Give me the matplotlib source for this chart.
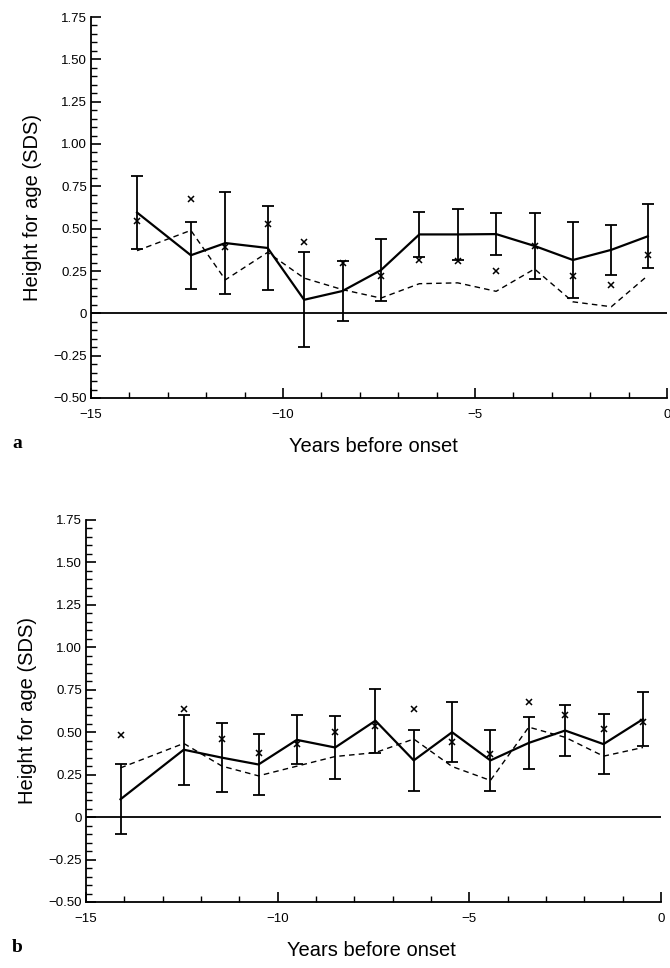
import matplotlib
matplotlib.use("Agg")
import matplotlib.pyplot as plt
from matplotlib.ticker import MultipleLocator, FixedLocator

# ---------------- data ----------------
# Panel a
years_a = [-13.8, -12.4, -11.5, -10.4, -9.45, -8.45, -7.45, -6.45, -5.45, -4.45, -3.45, -2.45, -1.45, -0.5]
mean_a = [0.595, 0.343, 0.415, 0.386, 0.08, 0.132, 0.255, 0.466, 0.466, 0.468, 0.398, 0.315, 0.375, 0.455]
err_a = [0.215, 0.197, 0.30, 0.247, 0.28, 0.18, 0.185, 0.132, 0.152, 0.126, 0.194, 0.224, 0.146, 0.19]
dash_a = [0.37, 0.49, 0.198, 0.36, 0.208, 0.14, 0.09, 0.175, 0.18, 0.13, 0.262, 0.068, 0.039, 0.223]
cross_a = [0.544, 0.676, 0.39, 0.53, 0.42, 0.295, 0.218, 0.315, 0.31, 0.249, 0.398, 0.218, 0.169, 0.346]

# Panel b
years_b = [-14.1, -12.45, -11.45, -10.5, -9.5, -8.5, -7.45, -6.45, -5.45, -4.45, -3.45, -2.5, -1.5, -0.47]
mean_b = [0.105, 0.397, 0.35, 0.31, 0.455, 0.41, 0.568, 0.334, 0.50, 0.334, 0.437, 0.51, 0.43, 0.577]
err_b = [0.205, 0.207, 0.205, 0.177, 0.145, 0.185, 0.188, 0.179, 0.177, 0.179, 0.153, 0.15, 0.178, 0.158]
dash_b = [0.29, 0.434, 0.30, 0.243, 0.30, 0.357, 0.38, 0.46, 0.298, 0.216, 0.53, 0.47, 0.359, 0.41]
cross_b = [0.484, 0.635, 0.46, 0.38, 0.43, 0.50, 0.535, 0.636, 0.44, 0.373, 0.676, 0.60, 0.52, 0.559]

x_ticks = [-15, -10, -5, 0]
x_ticklabels = ["\u221215", "\u221210", "\u22125", "0"]
y_ticks = [-0.5, -0.25, 0, 0.25, 0.5, 0.75, 1.0, 1.25, 1.5, 1.75]
y_ticklabels = ["\u22120.50", "\u22120.25", "0", "0.25", "0.50", "0.75", "1.00", "1.25", "1.50", "1.75"]

plt.rcParams['font.family'] = ['Liberation Sans', 'DejaVu Sans']

fig = plt.figure(figsize=(6.70, 9.68), dpi=100)
ax_a = fig.add_axes([91/670, 1 - 398/968, 576/670, 381/968])
ax_b = fig.add_axes([86/670, 1 - 902/968, 575/670, 382/968])


def draw(ax, years, mean, err, dash, cross, letter, letter_x, label_x):
    ax.axhline(0, color='black', lw=1.3, zorder=1)
    ax.plot(years, dash, color='black', lw=1.0, ls=(0, (4, 3)), zorder=2)
    ax.errorbar(years, mean, yerr=err, color='black', lw=1.6, elinewidth=1.3,
                capsize=4, capthick=1.3, zorder=3)
    ax.plot(years, cross, ls='none', marker='x', color='black', ms=4.5, mew=1.1, zorder=4)

    ax.set_xlim(-15, 0)
    ax.set_ylim(-0.5, 1.75)
    ax.xaxis.set_major_locator(FixedLocator(x_ticks))
    ax.set_xticklabels(x_ticklabels)
    ax.xaxis.set_minor_locator(MultipleLocator(1))
    ax.yaxis.set_major_locator(FixedLocator(y_ticks))
    ax.set_yticklabels(y_ticklabels)
    ax.yaxis.set_minor_locator(MultipleLocator(0.05))
    for s in ['top', 'right']:
        ax.spines[s].set_visible(False)
    for s in ['left', 'bottom']:
        ax.spines[s].set_linewidth(1.3)
    ax.tick_params(which='major', direction='in', length=7, width=1.2, labelsize=9.5)
    ax.tick_params(axis='x', which='major', pad=8)
    ax.tick_params(axis='y', which='major', pad=3)
    ax.tick_params(which='minor', direction='in', length=4, width=1.0)
    ax.set_ylabel("Height for age (SDS)", fontsize=14.5, labelpad=8)
    ax.set_xlabel("Years before onset", fontsize=14.5, labelpad=11.5, x=label_x)
    ax.text(letter_x, -0.12, letter, transform=ax.transAxes, fontsize=14,
            fontweight='bold', family='Liberation Serif', ha='center', va='center')


draw(ax_a, years_a, mean_a, err_a, dash_a, cross_a, 'a', -0.128, 0.49)
draw(ax_b, years_b, mean_b, err_b, dash_b, cross_b, 'b', -0.119, 0.496)

fig.savefig("out.png", dpi=100)
